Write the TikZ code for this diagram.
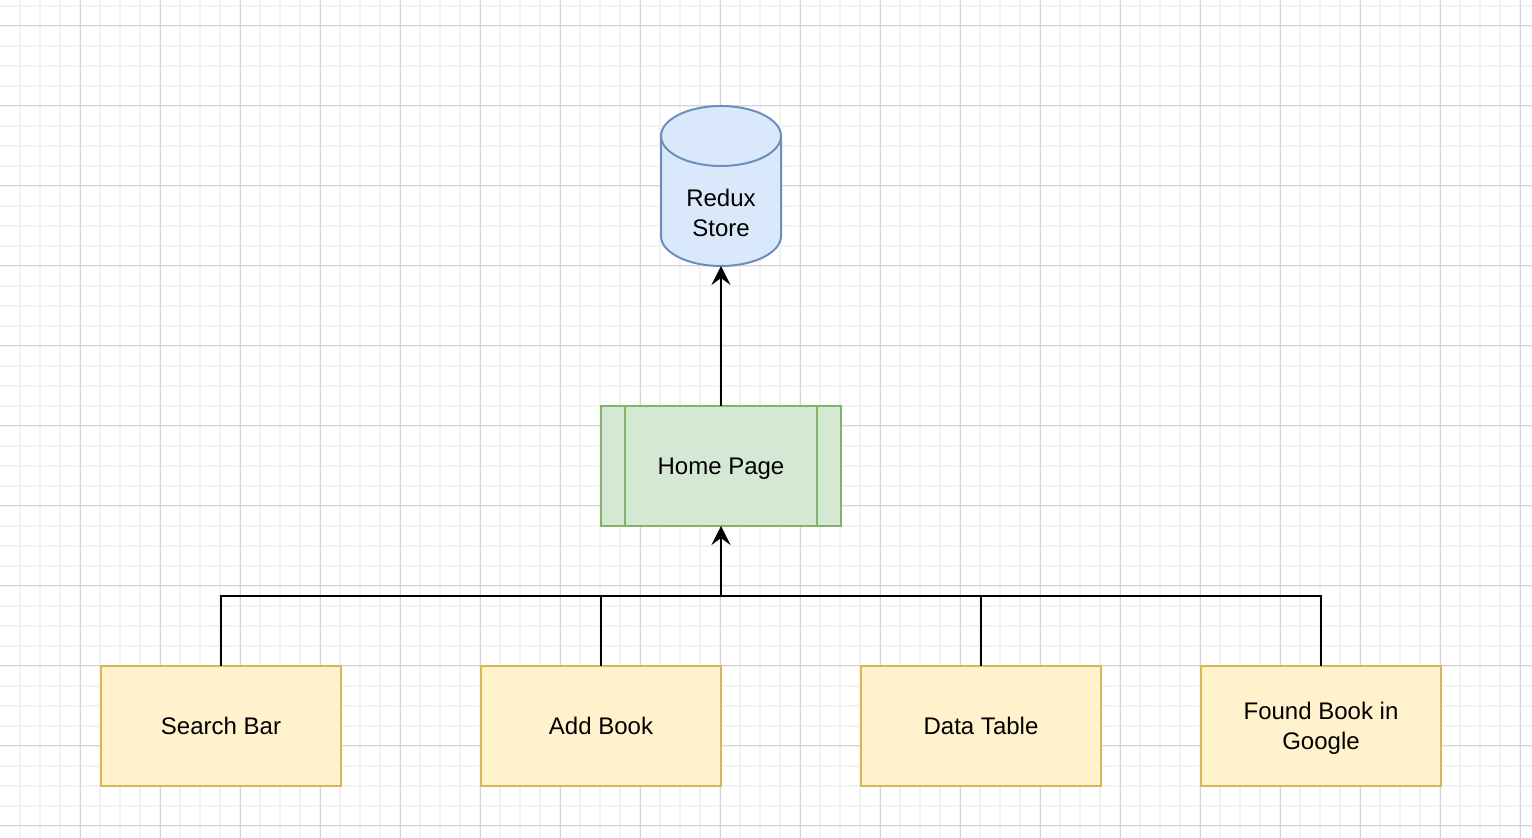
\documentclass[tikz,border=0pt]{standalone}
\usepackage{fontspec}
\setmainfont{Liberation Sans}
\usetikzlibrary{arrows.meta}
\definecolor{gridminor}{HTML}{F2F2F2}
\definecolor{gridmajor}{HTML}{D4D4D4}
\definecolor{compfill}{HTML}{FFF2CC}
\definecolor{compline}{HTML}{D6B656}
\definecolor{pagefill}{HTML}{D5E8D4}
\definecolor{pageline}{HTML}{82B366}
\definecolor{storefill}{HTML}{DAE8FC}
\definecolor{storeline}{HTML}{6C8EBF}

\begin{document}
\begin{tikzpicture}[x=0.5pt,y=-0.5pt,inner sep=0pt,outer sep=0pt,line width=1pt,
font=\fontsize{12pt}{15pt}\selectfont,
compblock/.style={draw=compline,fill=compfill,rectangle,align=center,text depth=0pt,minimum width=120pt,minimum height=60pt},
pageblock/.style={draw=pageline,fill=pagefill,rectangle,text depth=0pt,minimum width=120pt,minimum height=60pt},
storeblock/.style={rectangle,minimum width=60pt,minimum height=80pt},
link/.style={draw=black,line width=1pt},
tip/.style={-{Stealth[length=9.5pt,width=9.5pt,inset=3.5pt]}}]

\useasboundingbox (0,0) rectangle (1532,838);
\fill[white] (0,0) rectangle (1532,838);
% grid
\foreach \x in {20,40,...,1520} \draw[gridminor] (\x,0) -- (\x,838);
\foreach \y in {6,26,...,826} \draw[gridminor] (0,\y) -- (1532,\y);
\foreach \x in {80,160,...,1520} \draw[gridmajor,line width=0.5pt] (\x,0) -- (\x,838);
\foreach \y in {26,106,...,826} \draw[gridmajor,line width=0.5pt] (0,\y) -- (1532,\y);

% store
\draw (721,186) node[storeblock] (store) {};
\draw[storeline,fill=storefill] (store.north west) ++(0,30) -- ++(0,100)
  arc[start angle=180,end angle=360,x radius=30pt,y radius=15pt] -- ++(0,-100)
  arc[start angle=0,end angle=180,x radius=30pt,y radius=15pt] -- cycle;
\draw[storeline] (store.north west) ++(0,30) arc[start angle=180,end angle=360,x radius=30pt,y radius=15pt];
\path (store.center) ++(0,27) node[align=center] (storetext) {Redux\\Store};

% page
\draw (721,466) node[pageblock] (home) {Home Page};
\draw[pageline] ([xshift=12pt]home.north west) -- ([xshift=12pt]home.south west);
\draw[pageline] ([xshift=-12pt]home.north east) -- ([xshift=-12pt]home.south east);

% components
\draw (221,726) node[compblock] (search) {Search Bar};
\draw (601,726) node[compblock] (add) {Add Book};
\draw (981,726) node[compblock] (table) {Data Table};
\draw (1321,726) node[compblock] (found) {Found Book in\\Google};

\coordinate (bus) at (721,596);
\foreach \n in {search,add,table,found} \draw[link] (\n.north) |- (bus);
\draw[link,tip] (bus) -- (home.south);
\draw[link,tip] (home.north) -- (store.south);

\end{tikzpicture}
\end{document}
